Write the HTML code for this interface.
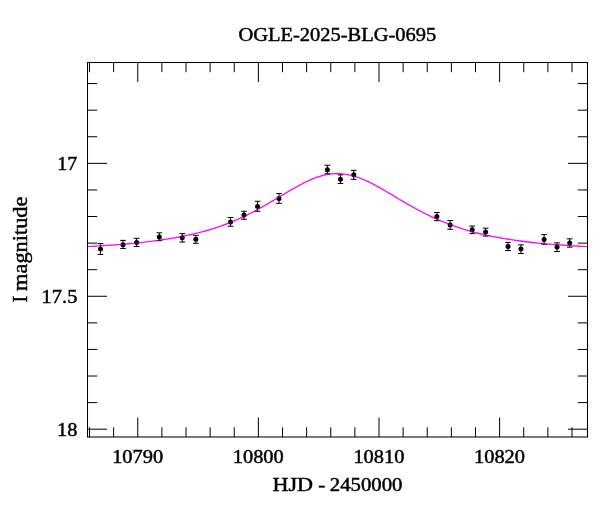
<!DOCTYPE html>
<html><head><meta charset="utf-8"><title>OGLE-2025-BLG-0695</title>
<style>html,body{margin:0;padding:0;background:#fff}svg{display:block}</style></head>
<body>
<svg width="600" height="512" viewBox="0 0 600 512">
<rect width="600" height="512" fill="#fff"/>
<g font-family="'Liberation Serif', serif" fill="#000" stroke="#000" stroke-width="0.45">
<text x="337.3" y="41.0" font-size="18.5" text-anchor="middle" textLength="197.8" lengthAdjust="spacingAndGlyphs">OGLE-2025-BLG-0695</text>
<text y="491.2" font-size="18.5"><tspan x="272.4" textLength="40.6" lengthAdjust="spacingAndGlyphs">HJD</tspan><tspan x="313.1" textLength="17.5" lengthAdjust="spacingAndGlyphs"> - </tspan><tspan x="329.8" textLength="72.6" lengthAdjust="spacingAndGlyphs">2450000</tspan></text>
<text x="137.65" y="462.9" font-size="18.5" text-anchor="middle" textLength="51" lengthAdjust="spacingAndGlyphs">10790</text>
<text x="258.275" y="462.9" font-size="18.5" text-anchor="middle" textLength="51" lengthAdjust="spacingAndGlyphs">10800</text>
<text x="378.9" y="462.9" font-size="18.5" text-anchor="middle" textLength="51" lengthAdjust="spacingAndGlyphs">10810</text>
<text x="499.525" y="462.9" font-size="18.5" text-anchor="middle" textLength="51" lengthAdjust="spacingAndGlyphs">10820</text>
<text x="77.2" y="169.9" font-size="18.5" text-anchor="end" textLength="20" lengthAdjust="spacingAndGlyphs">17</text>
<text x="77.4" y="303.4" font-size="18.5" text-anchor="end" textLength="35.8" lengthAdjust="spacingAndGlyphs">17.5</text>
<text x="77.5" y="435.7" font-size="18.5" text-anchor="end" textLength="20.4" lengthAdjust="spacingAndGlyphs">18</text>
<text transform="translate(27.3,249.5) rotate(-90)" font-size="20.3"><tspan x="-52.9">I </tspan><tspan x="-41.4" textLength="94.3" lengthAdjust="spacingAndGlyphs">magnitude</tspan></text>
</g>
<path id="cv" d="M87.50,246.57 L89.50,246.47 L91.50,246.36 L93.50,246.25 L95.50,246.14 L97.50,246.02 L99.50,245.91 L101.50,245.78 L103.50,245.66 L105.50,245.53 L107.50,245.40 L109.50,245.26 L111.50,245.12 L113.50,244.98 L115.50,244.83 L117.50,244.68 L119.50,244.52 L121.50,244.36 L123.50,244.19 L125.50,244.02 L127.50,243.84 L129.50,243.66 L131.50,243.47 L133.50,243.28 L135.50,243.08 L137.50,242.88 L139.50,242.67 L141.50,242.45 L143.50,242.23 L145.50,242.00 L147.50,241.76 L149.50,241.52 L151.50,241.27 L153.50,241.01 L155.50,240.75 L157.50,240.47 L159.50,240.19 L161.50,239.90 L163.50,239.60 L165.50,239.30 L167.50,238.98 L169.50,238.66 L171.50,238.32 L173.50,237.98 L175.50,237.63 L177.50,237.27 L179.50,236.89 L181.50,236.51 L183.50,236.12 L185.50,235.72 L187.50,235.30 L189.50,234.87 L191.50,234.43 L193.50,233.97 L195.50,233.50 L197.50,233.02 L199.50,232.52 L201.50,232.00 L203.50,231.47 L205.50,230.92 L207.50,230.36 L209.50,229.78 L211.50,229.17 L213.50,228.55 L215.50,227.91 L217.50,227.25 L219.50,226.57 L221.50,225.87 L223.50,225.14 L225.50,224.39 L227.50,223.63 L229.50,222.83 L231.50,222.02 L233.50,221.18 L235.50,220.33 L237.50,219.45 L239.50,218.55 L241.50,217.63 L243.50,216.69 L245.50,215.73 L247.50,214.75 L249.50,213.75 L251.50,212.73 L253.50,211.69 L255.50,210.64 L257.50,209.56 L259.50,208.47 L261.50,207.35 L263.50,206.23 L265.50,205.09 L267.50,203.93 L269.50,202.77 L271.50,201.59 L273.50,200.40 L275.50,199.21 L277.50,198.01 L279.50,196.81 L281.50,195.61 L283.50,194.41 L285.50,193.22 L287.50,192.03 L289.50,190.85 L291.50,189.68 L293.50,188.53 L295.50,187.40 L297.50,186.29 L299.50,185.20 L301.50,184.14 L303.50,183.11 L305.50,182.11 L307.50,181.16 L309.50,180.24 L311.50,179.38 L313.50,178.56 L315.50,177.79 L317.50,177.08 L319.50,176.43 L321.50,175.84 L323.50,175.31 L325.50,174.86 L327.50,174.46 L329.50,174.14 L331.50,173.90 L333.50,173.72 L335.50,173.62 L337.50,173.59 L339.50,173.64 L341.50,173.77 L343.50,173.96 L345.50,174.23 L347.50,174.57 L349.50,174.98 L351.50,175.45 L353.50,175.99 L355.50,176.59 L357.50,177.25 L359.50,177.97 L361.50,178.74 L363.50,179.57 L365.50,180.44 L367.50,181.36 L369.50,182.31 L371.50,183.31 L373.50,184.34 L375.50,185.40 L377.50,186.49 L379.50,187.60 L381.50,188.73 L383.50,189.88 L385.50,191.05 L387.50,192.22 L389.50,193.41 L391.50,194.60 L393.50,195.79 L395.50,196.99 L397.50,198.18 L399.50,199.37 L401.50,200.56 L403.50,201.74 L405.50,202.91 L407.50,204.07 L409.50,205.21 L411.50,206.34 L413.50,207.46 L415.50,208.56 L417.50,209.65 L419.50,210.72 L421.50,211.76 L423.50,212.79 L425.50,213.80 L427.50,214.79 L429.50,215.76 L431.50,216.71 L433.50,217.64 L435.50,218.55 L437.50,219.44 L439.50,220.31 L441.50,221.16 L443.50,221.98 L445.50,222.79 L447.50,223.58 L449.50,224.35 L451.50,225.10 L453.50,225.82 L455.50,226.53 L457.50,227.22 L459.50,227.89 L461.50,228.54 L463.50,229.18 L465.50,229.79 L467.50,230.39 L469.50,230.97 L471.50,231.53 L473.50,232.08 L475.50,232.61 L477.50,233.13 L479.50,233.62 L481.50,234.11 L483.50,234.57 L485.50,235.02 L487.50,235.46 L489.50,235.88 L491.50,236.29 L493.50,236.68 L495.50,237.06 L497.50,237.43 L499.50,237.78 L501.50,238.13 L503.50,238.47 L505.50,238.80 L507.50,239.12 L509.50,239.43 L511.50,239.74 L513.50,240.03 L515.50,240.32 L517.50,240.61 L519.50,240.88 L521.50,241.15 L523.50,241.41 L525.50,241.66 L527.50,241.91 L529.50,242.14 L531.50,242.37 L533.50,242.59 L535.50,242.81 L537.50,243.02 L539.50,243.22 L541.50,243.41 L543.50,243.60 L545.50,243.78 L547.50,243.95 L549.50,244.12 L551.50,244.29 L553.50,244.44 L555.50,244.60 L557.50,244.75 L559.50,244.90 L561.50,245.04 L563.50,245.18 L565.50,245.32 L567.50,245.45 L569.50,245.58 L571.50,245.71 L573.50,245.84 L575.50,245.96 L577.50,246.08 L579.50,246.19 L581.50,246.30 L583.50,246.41 L585.50,246.52 L587.50,246.62" fill="none" stroke="#ff00ff" stroke-width="1.15"/>
<path d="M89.50,62.5v9.7M89.50,437.0v-9.7M113.62,62.5v9.7M113.62,437.0v-9.7M137.75,62.5v19.5M137.75,437.0v-19.5M161.88,62.5v9.7M161.88,437.0v-9.7M186.00,62.5v9.7M186.00,437.0v-9.7M210.12,62.5v9.7M210.12,437.0v-9.7M234.25,62.5v9.7M234.25,437.0v-9.7M258.38,62.5v19.5M258.38,437.0v-19.5M282.50,62.5v9.7M282.50,437.0v-9.7M306.62,62.5v9.7M306.62,437.0v-9.7M330.75,62.5v9.7M330.75,437.0v-9.7M354.88,62.5v9.7M354.88,437.0v-9.7M379.00,62.5v19.5M379.00,437.0v-19.5M403.12,62.5v9.7M403.12,437.0v-9.7M427.25,62.5v9.7M427.25,437.0v-9.7M451.38,62.5v9.7M451.38,437.0v-9.7M475.50,62.5v9.7M475.50,437.0v-9.7M499.62,62.5v19.5M499.62,437.0v-19.5M523.75,62.5v9.7M523.75,437.0v-9.7M547.88,62.5v9.7M547.88,437.0v-9.7M572.00,62.5v9.7M572.00,437.0v-9.7M87.5,83.59h9.7M587.5,83.59h-9.7M87.5,110.18h9.7M587.5,110.18h-9.7M87.5,136.76h9.7M587.5,136.76h-9.7M87.5,163.35h19.5M587.5,163.35h-19.5M87.5,189.94h9.7M587.5,189.94h-9.7M87.5,216.52h9.7M587.5,216.52h-9.7M87.5,243.11h9.7M587.5,243.11h-9.7M87.5,269.69h9.7M587.5,269.69h-9.7M87.5,296.27h19.5M587.5,296.27h-19.5M87.5,322.86h9.7M587.5,322.86h-9.7M87.5,349.44h9.7M587.5,349.44h-9.7M87.5,376.03h9.7M587.5,376.03h-9.7M87.5,402.61h9.7M587.5,402.61h-9.7M87.5,429.20h19.5M587.5,429.20h-19.5" fill="none" stroke="#000" stroke-width="1"/>
<rect x="87.5" y="62.5" width="500.0" height="374.5" fill="none" stroke="#000" stroke-width="1.05"/>
<path d="M100.50,243.50V254.40M97.65,243.50h5.7M97.65,254.40h5.7M123.00,240.40V248.45M120.15,240.40h5.7M120.15,248.45h5.7M136.60,238.30V246.55M133.75,238.30h5.7M133.75,246.55h5.7M159.30,232.85V240.70M156.45,232.85h5.7M156.45,240.70h5.7M182.25,233.60V242.05M179.40,233.60h5.7M179.40,242.05h5.7M195.85,235.30V243.30M193.00,235.30h5.7M193.00,243.30h5.7M230.50,217.50V226.25M227.65,217.50h5.7M227.65,226.25h5.7M244.00,211.25V219.30M241.15,211.25h5.7M241.15,219.30h5.7M257.55,201.25V211.25M254.70,201.25h5.7M254.70,211.25h5.7M279.00,193.50V203.35M276.15,193.50h5.7M276.15,203.35h5.7M327.40,165.25V173.75M324.55,165.25h5.7M324.55,173.75h5.7M340.45,174.85V183.50M337.60,174.85h5.7M337.60,183.50h5.7M353.75,170.35V179.30M350.90,170.35h5.7M350.90,179.30h5.7M436.85,212.50V220.70M434.00,212.50h5.7M434.00,220.70h5.7M450.15,220.55V229.30M447.30,220.55h5.7M447.30,229.30h5.7M472.20,226.00V233.60M469.35,226.00h5.7M469.35,233.60h5.7M485.60,228.20V236.10M482.75,228.20h5.7M482.75,236.10h5.7M508.05,242.35V250.55M505.20,242.35h5.7M505.20,250.55h5.7M520.95,244.85V253.50M518.10,244.85h5.7M518.10,253.50h5.7M544.10,234.60V244.20M541.25,234.60h5.7M541.25,244.20h5.7M557.05,242.85V251.50M554.20,242.85h5.7M554.20,251.50h5.7M569.70,238.85V247.15M566.85,238.85h5.7M566.85,247.15h5.7" fill="none" stroke="#000" stroke-width="1"/>
<circle cx="100.50" cy="249.10" r="2.5" fill="#000"/>
<circle cx="123.00" cy="244.65" r="2.5" fill="#000"/>
<circle cx="136.60" cy="242.60" r="2.5" fill="#000"/>
<circle cx="159.30" cy="236.95" r="2.5" fill="#000"/>
<circle cx="182.25" cy="237.85" r="2.5" fill="#000"/>
<circle cx="195.85" cy="239.20" r="2.5" fill="#000"/>
<circle cx="230.50" cy="221.90" r="2.5" fill="#000"/>
<circle cx="244.00" cy="215.00" r="2.5" fill="#000"/>
<circle cx="257.55" cy="206.40" r="2.5" fill="#000"/>
<circle cx="279.00" cy="198.60" r="2.5" fill="#000"/>
<circle cx="327.40" cy="169.80" r="2.5" fill="#000"/>
<circle cx="340.45" cy="179.30" r="2.5" fill="#000"/>
<circle cx="353.75" cy="174.70" r="2.5" fill="#000"/>
<circle cx="436.85" cy="216.40" r="2.5" fill="#000"/>
<circle cx="450.15" cy="225.00" r="2.5" fill="#000"/>
<circle cx="472.20" cy="229.80" r="2.5" fill="#000"/>
<circle cx="485.60" cy="232.00" r="2.5" fill="#000"/>
<circle cx="508.05" cy="246.50" r="2.5" fill="#000"/>
<circle cx="520.95" cy="249.05" r="2.5" fill="#000"/>
<circle cx="544.10" cy="239.60" r="2.5" fill="#000"/>
<circle cx="557.05" cy="247.05" r="2.5" fill="#000"/>
<circle cx="569.70" cy="242.95" r="2.5" fill="#000"/>
<use href="#cv" opacity="0.4"/>
</svg>
</body></html>
